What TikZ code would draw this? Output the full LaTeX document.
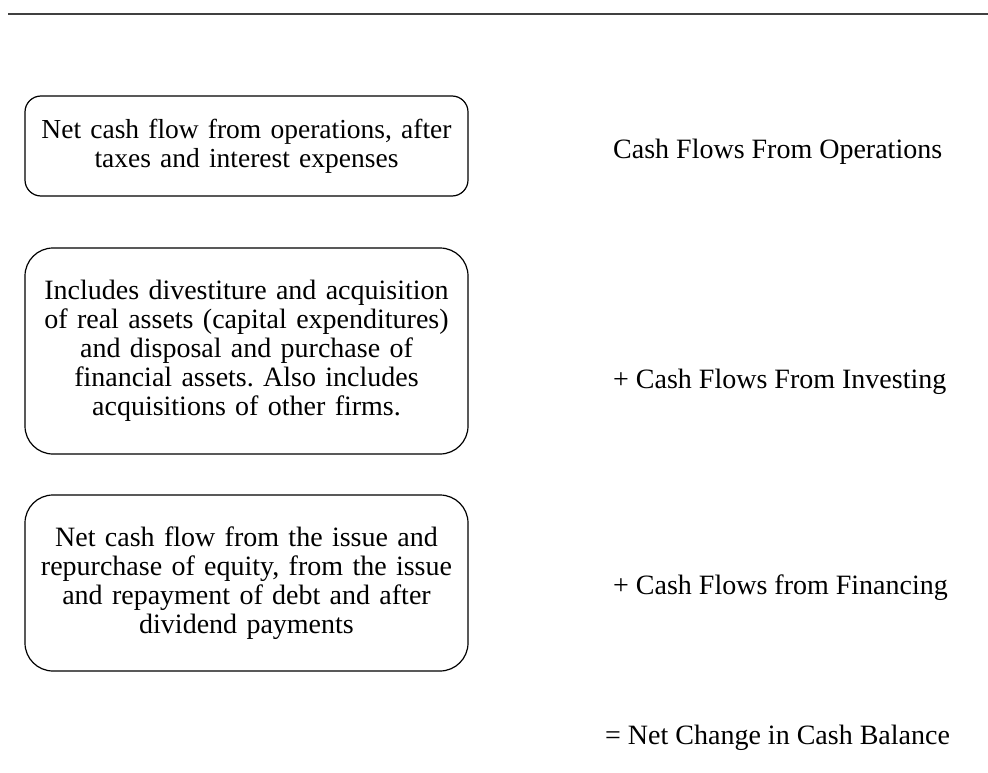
\documentclass[tikz,border=0pt]{standalone}
\usepackage{fontspec}
\setmainfont{Liberation Serif}
\usetikzlibrary{positioning}
\definecolor{rulegray}{rgb}{0.25, 0.25, 0.25}
\frenchspacing

\begin{document}
\begin{tikzpicture}[x=1pt,y=-1pt,
	flowbox/.style={draw,line width=1.2pt,align=center,inner sep=0pt,
		minimum width=443pt,text width=436pt,
		font=\fontsize{28}{29}\selectfont},
	flowlabel/.style={anchor=west,inner sep=0pt,
		font=\fontsize{28}{29}\selectfont}
	]
	\useasboundingbox (0,0) rectangle (988,773);
	% Rule at the top
	\coordinate (ruleL) at (8,14);
	\coordinate (ruleR) at (988,14);
	\draw[rulegray,line width=2pt] (ruleL) -- (ruleR);

	% Description boxes
	\node[flowbox,rounded corners=16pt,minimum height=100pt,
		font=\fontsize{27.5}{29}\selectfont] (ops) at (246.5,146)
		{Net cash flow from operations, after\\taxes and interest expenses};
	\node[flowbox,rounded corners=28pt,minimum height=206pt] (inv) at (246.5,351)
		{Includes divestiture and acquisition\\of real assets (capital expenditures)\\and disposal and purchase of\\financial assets. Also includes\\acquisitions of other firms.};
	\node[flowbox,rounded corners=28pt,minimum height=176pt] (fin) at (246.5,583)
		{Net cash flow from the issue and\\repurchase of equity, from the issue\\and repayment of debt and after\\dividend payments};

	% Cash flow sums
	\node[flowlabel] (opsL) at (613,152) {Cash Flows From Operations};
	\node[flowlabel] (invL) at (613,382) {+ Cash Flows From Investing};
	\node[flowlabel] (finL) at (613,588) {+ Cash Flows from Financing};
	\node[flowlabel] (netL) at (605,738) {= Net Change in Cash Balance};
\end{tikzpicture}
\end{document}
